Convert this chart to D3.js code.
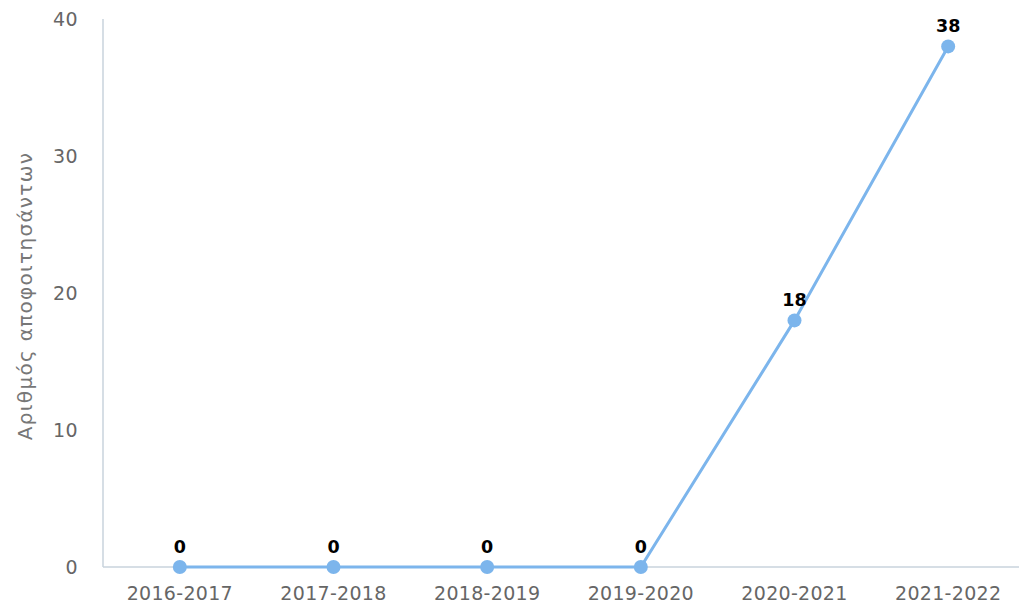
<!DOCTYPE html>
<html><head><meta charset="utf-8">
<script src="https://cdn.jsdelivr.net/npm/d3@7"></script>
<style>body{margin:0;background:#fff}svg{display:block;font-family:"DejaVu Sans",sans-serif}</style>
</head><body><svg id="c" width="1019" height="605"></svg>
<script>
const categories = ["2016-2017","2017-2018","2018-2019","2019-2020","2020-2021","2021-2022"];
const values = [0,0,0,0,18,38];
const yTicks = [0,10,20,30,40];
const yTitle = "Αριθμός αποφοιτησάντων";

const svg = d3.select("#c");
const m = {l:103, r:-6, t:19, b:38};
const W = 1019, H = 605;
const x = d3.scalePoint().domain(categories).range([m.l, W - m.r]).padding(0.5);
const y = d3.scaleLinear().domain([0,40]).range([H - m.b, m.t]);

svg.append("line").attr("x1",m.l).attr("x2",m.l).attr("y1",y(40)).attr("y2",y(0))
  .attr("stroke","#c9d3dc").attr("stroke-width",1.5);
svg.append("line").attr("x1",m.l).attr("x2",W).attr("y1",y(0)).attr("y2",y(0))
  .attr("stroke","#c9d3dc").attr("stroke-width",1.5);

svg.selectAll(".yt").data(yTicks).join("text")
  .attr("x",78).attr("y",d=>y(d)).attr("dy","0.36em").attr("text-anchor","end")
  .attr("font-size",19).attr("letter-spacing",0.4).attr("fill","#666").text(d=>d);

svg.selectAll(".xt").data(categories).join("text")
  .attr("x",d=>x(d)).attr("y",y(0)+33).attr("text-anchor","middle")
  .attr("font-size",19).attr("letter-spacing",0.3).attr("fill","#666").text(d=>d.replace("-","‑"));

svg.append("text").attr("transform",`translate(25,${(y(0)+y(40))/2 + 3}) rotate(-90)`)
  .attr("text-anchor","middle").attr("dy","0.35em").attr("font-size",20).attr("letter-spacing",1.3).attr("fill","#777").text(yTitle);

const data = categories.map((c,i)=>({c,v:values[i]}));
svg.append("path").datum(data).attr("fill","none").attr("stroke","#7cb5ec").attr("stroke-width",3)
  .attr("d", d3.line().x(d=>x(d.c)).y(d=>y(d.v)));
svg.selectAll(".pt").data(data).join("circle").attr("cx",d=>x(d.c)).attr("cy",d=>y(d.v)).attr("r",7).attr("fill","#7cb5ec");
svg.selectAll(".lb").data(data).join("text").attr("x",d=>x(d.c)).attr("y",d=>y(d.v)-14)
  .attr("text-anchor","middle").attr("font-size",17.5).attr("font-weight","bold").attr("fill","#000").text(d=>d.v);
</script></body></html>
